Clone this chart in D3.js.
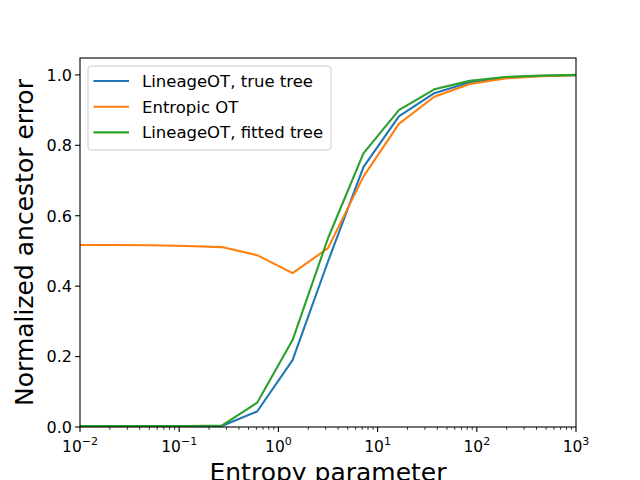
<!DOCTYPE html>
<html>
<head>
<meta charset="utf-8">
<script src="https://cdn.jsdelivr.net/npm/d3@7"></script>
<style>
  body { margin: 0; background: #fff; }
  svg { display: block; font-family: "DejaVu Sans", sans-serif; }
</style>
</head>
<body>
<svg id="chart" width="640" height="480"></svg>
<script>
// Entropie-Parameter (15 Punkte, log-verteilt)
const entropy = [0.01, 0.0228, 0.0518, 0.1179, 0.2683, 0.6105, 1.389, 3.162,
                 7.197, 16.38, 37.28, 84.83, 193.1, 439.4, 1000];

const trueTree   = [0.002, 0.002, 0.002, 0.002, 0.003, 0.044, 0.19, 0.47,
                    0.738, 0.882, 0.948, 0.979, 0.993, 0.997, 0.999];
const entropicOT = [0.517, 0.517, 0.516, 0.514, 0.511, 0.488, 0.437, 0.508,
                    0.711, 0.861, 0.938, 0.974, 0.990, 0.996, 0.999];
const fittedTree = [0.003, 0.003, 0.003, 0.003, 0.004, 0.069, 0.247, 0.536,
                    0.777, 0.900, 0.959, 0.983, 0.994, 0.998, 1.000];

const seriesNames  = ["LineageOT, true tree", "Entropic OT", "LineageOT, fitted tree"];
const seriesColors = ["#1f77b4", "#ff7f0e", "#2ca02c"];
const yTicks = [0, 0.2, 0.4, 0.6, 0.8, 1.0];
const xDecades = [-2, -1, 0, 1, 2, 3];

const series = [trueTree, entropicOT, fittedTree].map((vals, i) => ({
  name: seriesNames[i],
  color: seriesColors[i],
  values: vals.map((v, j) => ({ x: entropy[j], y: v }))
}));

const width = 640, height = 480;
const margin = { top: 58, right: 64, bottom: 53, left: 80 };
const innerWidth  = width  - margin.left - margin.right;
const innerHeight = height - margin.top  - margin.bottom;

const svg = d3.select("#chart");
const g = svg.append("g")
  .attr("transform", `translate(${margin.left},${margin.top})`);

const x = d3.scaleLog().domain([1e-2, 1e3]).range([0, innerWidth]);
const y = d3.scaleLinear().domain([0, 1.048]).range([innerHeight, 0]);

// Linien
const line = d3.line().x(d => x(d.x)).y(d => y(d.y));
g.append("g")
  .attr("clip-path", "url(#clip)")
  .selectAll("path")
  .data(series)
  .join("path")
  .attr("d", d => line(d.values))
  .attr("fill", "none")
  .attr("stroke", d => d.color)
  .attr("stroke-width", 2.1)
  .attr("stroke-linejoin", "round")
  .attr("stroke-linecap", "square");

svg.append("defs").append("clipPath").attr("id", "clip")
  .append("rect").attr("width", innerWidth).attr("height", innerHeight);

// X-Achse (log, mit Nebenstrichen)
const minor = [];
xDecades.slice(0, -1).forEach(e => {
  for (let k = 2; k <= 9; k++) minor.push(k * Math.pow(10, e));
});
const xAxis = g.append("g").attr("transform", `translate(0,${innerHeight})`);
xAxis.selectAll("line.minor")
  .data(minor)
  .join("line")
  .attr("x1", d => x(d)).attr("x2", d => x(d))
  .attr("y1", 0).attr("y2", 2.8)
  .attr("stroke", "#000").attr("stroke-width", 0.8);
xAxis.selectAll("line.major")
  .data(xDecades)
  .join("line")
  .attr("x1", d => x(Math.pow(10, d))).attr("x2", d => x(Math.pow(10, d)))
  .attr("y1", 0).attr("y2", 4.9)
  .attr("stroke", "#000").attr("stroke-width", 1.1);
const xl = xAxis.selectAll("text")
  .data(xDecades)
  .join("text")
  .attr("x", d => x(Math.pow(10, d)))
  .attr("y", 25)
  .attr("text-anchor", "middle")
  .attr("font-size", "15.5px")
  .attr("fill", "#000");
xl.append("tspan").text("10");
xl.append("tspan")
  .attr("dy", -7)
  .attr("font-size", "11px")
  .text(d => d < 0 ? "\u2212" + Math.abs(d) : String(d));

// Y-Achse
const yAxis = g.append("g");
yAxis.selectAll("line")
  .data(yTicks)
  .join("line")
  .attr("x1", -4.9).attr("x2", 0)
  .attr("y1", d => y(d)).attr("y2", d => y(d))
  .attr("stroke", "#000").attr("stroke-width", 1.1);
yAxis.selectAll("text")
  .data(yTicks)
  .join("text")
  .attr("x", -8)
  .attr("y", d => y(d))
  .attr("dy", "0.36em")
  .attr("text-anchor", "end")
  .attr("font-size", "16px")
  .attr("fill", "#000")
  .text(d => d.toFixed(1));

// Rahmen
g.append("rect")
  .attr("width", innerWidth).attr("height", innerHeight)
  .attr("fill", "none").attr("stroke", "#000").attr("stroke-width", 1.1);

// Achsenbeschriftungen
svg.append("text")
  .attr("x", margin.left + innerWidth / 2)
  .attr("y", 481)
  .attr("text-anchor", "middle")
  .attr("font-size", "25px")
  .attr("fill", "#000")
  .text("Entropy parameter");

svg.append("text")
  .attr("transform", `translate(33,${margin.top + innerHeight / 2}) rotate(-90)`)
  .attr("text-anchor", "middle")
  .attr("font-size", "25px")
  .attr("fill", "#000")
  .text("Normalized ancestor error");

// Legende
const legend = svg.append("g").attr("transform", "translate(88,66)");
legend.append("rect")
  .attr("width", 243).attr("height", 84)
  .attr("rx", 3)
  .attr("fill", "#fff").attr("fill-opacity", 0.8)
  .attr("stroke", "#cccccc").attr("stroke-width", 1);
const items = legend.selectAll("g.item")
  .data(series)
  .join("g")
  .attr("transform", (d, i) => `translate(0,${15 + i * 25.7})`);
items.append("line")
  .attr("x1", 5.5).attr("x2", 41)
  .attr("stroke", d => d.color).attr("stroke-width", 2.1);
items.append("text")
  .attr("x", 54)
  .attr("dy", "0.36em")
  .attr("font-size", "16.5px")
  .attr("fill", "#000")
  .text(d => d.name);
</script>
</body>
</html>
